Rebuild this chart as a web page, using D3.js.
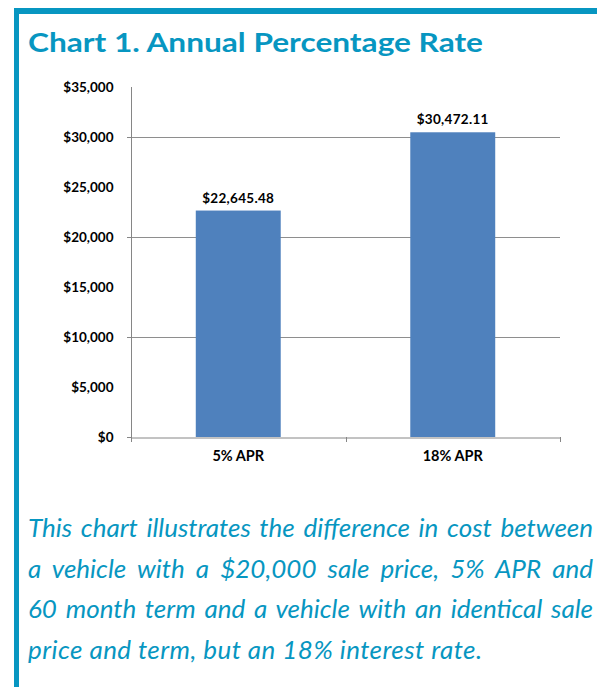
<!DOCTYPE html>
<html>
<head>
<meta charset="utf-8">
<script src="https://cdn.jsdelivr.net/npm/d3@7"></script>
<style>
  body { margin: 0; background: #fff; }
  svg { display: block; }
</style>
</head>
<body>
<div id="chart"></div>
<script>
// data
var categories = ["5% APR", "18% APR"]
var totals = [22645.48, 30472.11]
var yTicks = [0, 5000, 10000, 15000, 20000, 25000, 30000, 35000]
var gridTicks = [0, 10000, 20000, 30000]
var title = "Chart 1. Annual Percentage Rate"
var caption = [
    "This chart illustrates the difference in cost between",
    "a vehicle with a $20,000 sale price, 5% APR and",
    "60 month term and a vehicle with an identical sale",
    "price and term, but an 18% interest rate."
]

var width = 597,
    height = 687,
    blue = "#0796c1",
    font = "Lato, 'Open Sans', sans-serif"

var svg = d3.select("#chart")
    .append("svg")
        .attr("width", width)
        .attr("height", height)

// frame: top bar and left bar
svg.append("rect").attr("x", 14).attr("y", 8).attr("width", width - 14).attr("height", 6).attr("fill", blue)
svg.append("rect").attr("x", 14).attr("y", 8).attr("width", 5).attr("height", height - 8).attr("fill", blue)

svg.append("text")
    .attr("x", 28)
    .attr("y", 52)
    .attr("fill", blue)
    .attr("font-family", font)
    .attr("font-weight", "bold")
    .attr("font-size", "27px")
    .attr("textLength", 455)
    .attr("lengthAdjust", "spacingAndGlyphs")
    .text(title)

// plot area
var plotLeft = 131, plotRight = 560, plotTop = 87, plotBottom = 437

var x = d3.scaleBand()
    .domain(categories)
    .range([plotLeft, plotRight])
    .paddingInner(0.604)
    .paddingOuter(0.302)

var y = d3.scaleLinear()
    .domain([0, 35000])
    .range([plotBottom, plotTop])

var money = function(d){ return "$" + d3.format(",")(d) }

// gridlines
svg.append("g")
    .selectAll("line")
    .data(gridTicks.filter(function(d){ return d > 0 }))
    .enter()
    .append("line")
        .attr("x1", plotLeft).attr("x2", plotRight)
        .attr("y1", function(d){ return y(d) + 0.5 })
        .attr("y2", function(d){ return y(d) + 0.5 })
        .attr("stroke", "#8e8e8e")
        .attr("stroke-width", 1)

// y axis labels
var yAxis = svg.append("g")
    .attr("transform", "translate(" + (plotLeft + 0.5) + ",0)")
    .call(d3.axisLeft(y).tickValues(yTicks).tickFormat(money).tickSize(0).tickPadding(18))
yAxis.select(".domain").remove()
yAxis.selectAll("text")
    .attr("font-family", font)
    .attr("font-weight", "bold")
    .attr("font-size", "13.5px")
    .attr("fill", "#000")

// y axis line and major ticks
svg.append("line")
    .attr("x1", plotLeft + 0.5).attr("x2", plotLeft + 0.5)
    .attr("y1", plotTop).attr("y2", plotBottom)
    .attr("stroke", "#868686")
svg.append("g")
    .selectAll("line")
    .data(gridTicks)
    .enter()
    .append("line")
        .attr("x1", plotLeft - 4).attr("x2", plotLeft)
        .attr("y1", function(d){ return y(d) + 0.5 })
        .attr("y2", function(d){ return y(d) + 0.5 })
        .attr("stroke", "#868686")

// bars
svg.append("g")
    .selectAll("rect")
    .data(totals)
    .enter()
    .append("rect")
        .attr("x", function(d, i){ return x(categories[i]) })
        .attr("y", function(d){ return y(d) })
        .attr("width", x.bandwidth())
        .attr("height", function(d){ return plotBottom - y(d) })
        .attr("fill", "#4f81bd")

// value labels
svg.append("g")
    .selectAll("text")
    .data(totals)
    .enter()
    .append("text")
        .attr("x", function(d, i){ return x(categories[i]) + x.bandwidth() / 2 })
        .attr("y", function(d){ return y(d) - 8 })
        .attr("text-anchor", "middle")
        .attr("font-family", font)
        .attr("font-weight", "bold")
        .attr("font-size", "13.5px")
        .attr("letter-spacing", "0.3px")
        .text(function(d){ return d3.format("$,.2f")(d) })

// x axis
var xAxis = svg.append("g")
    .attr("transform", "translate(0," + (plotBottom + 0.5) + ")")
    .call(d3.axisBottom(x).tickSize(0).tickPadding(13))
xAxis.select(".domain").attr("stroke", "#868686")
xAxis.selectAll("text")
    .attr("font-family", font)
    .attr("font-weight", "bold")
    .attr("font-size", "14.5px")
    .attr("fill", "#000")
// category boundary ticks
var bounds = [plotLeft, (plotLeft + plotRight) / 2, plotRight]
svg.append("g")
    .selectAll("line")
    .data(bounds)
    .enter()
    .append("line")
        .attr("x1", function(d){ return Math.round(d) + 0.5 })
        .attr("x2", function(d){ return Math.round(d) + 0.5 })
        .attr("y1", plotBottom).attr("y2", plotBottom + 5)
        .attr("stroke", "#868686")

// caption, justified with word spacing except last line
var lineWidth = 565
var cap = svg.append("g")
    .selectAll("text")
    .data(caption)
    .enter()
    .append("text")
        .attr("x", 28)
        .attr("y", function(d, i){ return 537 + i * 40.5 })
        .attr("fill", blue)
        .attr("font-family", font)
        .attr("font-style", "italic")
        .attr("font-size", "26px")
        .text(function(d){ return d })
cap.each(function(d, i){
    var w = this.getComputedTextLength()
    if (i == caption.length - 1) {
        // last line is left aligned; stretch letters a little to match its length
        if (w < 454) d3.select(this).attr("textLength", 454).attr("lengthAdjust", "spacing")
        return
    }
    var gaps = d.split(" ").length - 1
    if (w < lineWidth) {
        d3.select(this).attr("word-spacing", ((lineWidth - w) / gaps) + "px")
    } else {
        d3.select(this).attr("textLength", lineWidth).attr("lengthAdjust", "spacingAndGlyphs")
    }
})
</script>
</body>
</html>
